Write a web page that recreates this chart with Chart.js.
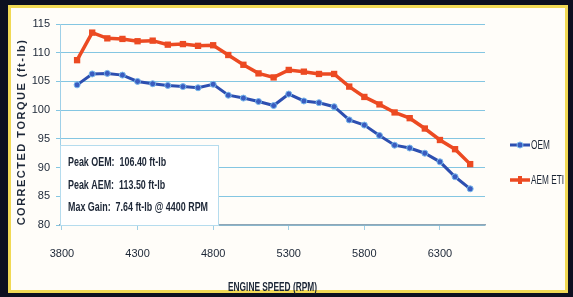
<!DOCTYPE html>
<html>
<head>
<meta charset="utf-8">
<script src="https://cdn.jsdelivr.net/npm/chart.js@4"></script>
<style>
  html, body { margin: 0; padding: 0; background: #0d1020; }
  canvas { display: block; }
</style>
</head>
<body>
<canvas id="torqueGraph" width="573" height="297"></canvas>
<script>

var rpm = [3900, 4000, 4100, 4200, 4300, 4400, 4500, 4600, 4700, 4800, 4900, 5000, 5100, 5200,
  5300, 5400, 5500, 5600, 5700, 5800, 5900, 6000, 6100, 6200, 6300, 6400, 6500];
var oemTorque = [104.4, 106.3, 106.4, 106.1, 105.0, 104.6, 104.3, 104.1, 103.9, 104.5, 102.6, 102.1, 101.5, 100.8,
  102.8, 101.6, 101.3, 100.6, 98.3, 97.4, 95.6, 93.9, 93.4, 92.5, 91.0, 88.4, 86.3];
var aemTorque = [108.7, 113.5, 112.5, 112.4, 112.0, 112.1, 111.4, 111.5, 111.2, 111.3, 109.6, 107.9, 106.4, 105.7,
  107.0, 106.7, 106.3, 106.3, 104.1, 102.3, 101.0, 99.6, 98.6, 96.8, 94.8, 93.2, 90.6];
var rpmTicks = [3800, 4300, 4800, 5300, 5800, 6300];
var seriesNames = ["OEM", "AEM ETI"];
var notes = ["Peak OEM:  106.40 ft-lb", "Peak AEM:  113.50 ft-lb", "Max Gain:  7.64 ft-lb @ 4400 RPM"];
var xTitle = "ENGINE SPEED (RPM)";
var yTitle = "CORRECTED TORQUE (ft-lb)";

var sans = "'Liberation Sans', Arial, sans-serif";
var textColor = "#1c2636";

function toPoints(values) {
  return values.map((v, i) => ({ x: rpm[i], y: v }));
}

// squeeze text sideways so it looks like the narrow font of the original
function narrowText(ctx, text, x, y, sx, align) {
  ctx.save();
  ctx.translate(x, y);
  ctx.scale(sx, 1);
  ctx.textAlign = align || "left";
  ctx.fillText(text, 0, 0);
  ctx.restore();
}

// dark frame + yellow border behind everything
var framePlugin = {
  id: "frame",
  beforeDraw: function(chart) {
    var ctx = chart.ctx;
    ctx.save();
    ctx.fillStyle = "#0d1020";
    ctx.fillRect(0, 0, chart.width, chart.height);
    ctx.fillStyle = "#f1d955";
    ctx.fillRect(8, 5, 560, 288);
    ctx.fillStyle = "#fffdf9";
    ctx.fillRect(11, 8, 554, 282);
    ctx.restore();
  }
};

// white text box with the peak numbers
var notesPlugin = {
  id: "notes",
  beforeDatasetsDraw: function(chart) {
    var ctx = chart.ctx;
    ctx.save();
    ctx.fillStyle = "#ffffff";
    ctx.fillRect(60, 145, 158, 81);
    ctx.strokeStyle = "#b5dcee";
    ctx.lineWidth = 1;
    ctx.strokeRect(60.5, 145.5, 158, 80);
    ctx.fillStyle = textColor;
    ctx.font = "bold 12px " + sans;
    ctx.textBaseline = "middle";
    var sx = 140 / ctx.measureText(notes[2]).width;
    narrowText(ctx, notes[0], 68, 163, sx);
    narrowText(ctx, notes[1], 68, 186, sx);
    narrowText(ctx, notes[2], 68, 208, sx);
    ctx.restore();
  }
};

// axis titles and the legend on the right
var labelsPlugin = {
  id: "labels",
  afterDraw: function(chart) {
    var ctx = chart.ctx;
    var area = chart.chartArea;
    ctx.save();
    ctx.fillStyle = textColor;
    ctx.textBaseline = "middle";

    ctx.font = "bold 12px " + sans;
    var sx = 89 / ctx.measureText(xTitle).width;
    narrowText(ctx, xTitle, (area.left + area.right) / 2, 288, sx, "center");

    ctx.save();
    ctx.translate(22, 132);
    ctx.rotate(-Math.PI / 2);
    ctx.font = "bold 11px " + sans;
    ctx.letterSpacing = "1.5px";
    ctx.textAlign = "center";
    ctx.fillText(yTitle, 0, 0);
    ctx.restore();

    var rows = [145, 180];
    ctx.font = "12px " + sans;
    var legendScale = 33 / ctx.measureText(seriesNames[1]).width;
    chart.data.datasets.forEach(function(ds, i) {
      var y = rows[i];
      ctx.strokeStyle = ds.borderColor;
      ctx.lineWidth = ds.borderWidth;
      ctx.beginPath();
      ctx.moveTo(510, y);
      ctx.lineTo(530, y);
      ctx.stroke();
      ctx.fillStyle = ds.pointBackgroundColor;
      ctx.strokeStyle = ds.pointBorderColor;
      ctx.lineWidth = 1;
      if (i === 0) {
        ctx.beginPath();
        ctx.arc(520, y, 3, 0, Math.PI * 2);
        ctx.fill();
        ctx.stroke();
      } else {
        ctx.fillRect(518, y - 4, 4, 8);
      }
      ctx.fillStyle = textColor;
      narrowText(ctx, ds.label, 531, y + 1, legendScale);
    });
    ctx.restore();
  }
};

new Chart(document.getElementById("torqueGraph").getContext("2d"), {
  type: "line",
  data: {
    datasets: [
      {
        label: seriesNames[0],
        data: toPoints(oemTorque),
        borderColor: "#2d4fb0",
        borderWidth: 3,
        pointRadius: 3,
        pointBackgroundColor: "#3a5cc0",
        pointBorderColor: "#78b8ec",
        pointBorderWidth: 1,
        tension: 0
      },
      {
        label: seriesNames[1],
        data: toPoints(aemTorque),
        borderColor: "#ec4a22",
        borderWidth: 3.5,
        pointRadius: 2,
        pointStyle: "rect",
        pointBackgroundColor: "#ec4a22",
        pointBorderColor: "#ec4a22",
        tension: 0
      }
    ]
  },
  options: {
    responsive: false,
    animation: false,
    layout: { padding: { left: 12, right: 88, top: 24, bottom: 6 } },
    plugins: {
      legend: { display: false },
      tooltip: { enabled: false }
    },
    scales: {
      x: {
        type: "linear",
        min: 3787,
        max: 6598,
        afterBuildTicks: function(scale) {
          scale.ticks = rpmTicks.map(v => ({ value: v }));
        },
        afterFit: function(scale) {
          scale.height = 66;
        },
        ticks: {
          color: textColor,
          font: { family: sans, size: 11 },
          padding: 17,
          maxRotation: 0,
          callback: v => String(v)
        },
        grid: {
          drawOnChartArea: false,
          drawTicks: true,
          tickLength: 5,
          color: "#9fcfe6"
        },
        border: { color: "#8fa6b6", width: 1.5 }
      },
      y: {
        min: 80,
        max: 115,
        afterFit: function(scale) {
          scale.width = 48;
        },
        ticks: {
          stepSize: 5,
          color: textColor,
          font: { family: sans, size: 11 },
          padding: 6
        },
        grid: {
          color: "#84c6e2",
          lineWidth: 1,
          tickLength: 4
        },
        border: { color: "#9fd0e8" }
      }
    }
  },
  plugins: [framePlugin, notesPlugin, labelsPlugin]
});
</script>
</body>
</html>
